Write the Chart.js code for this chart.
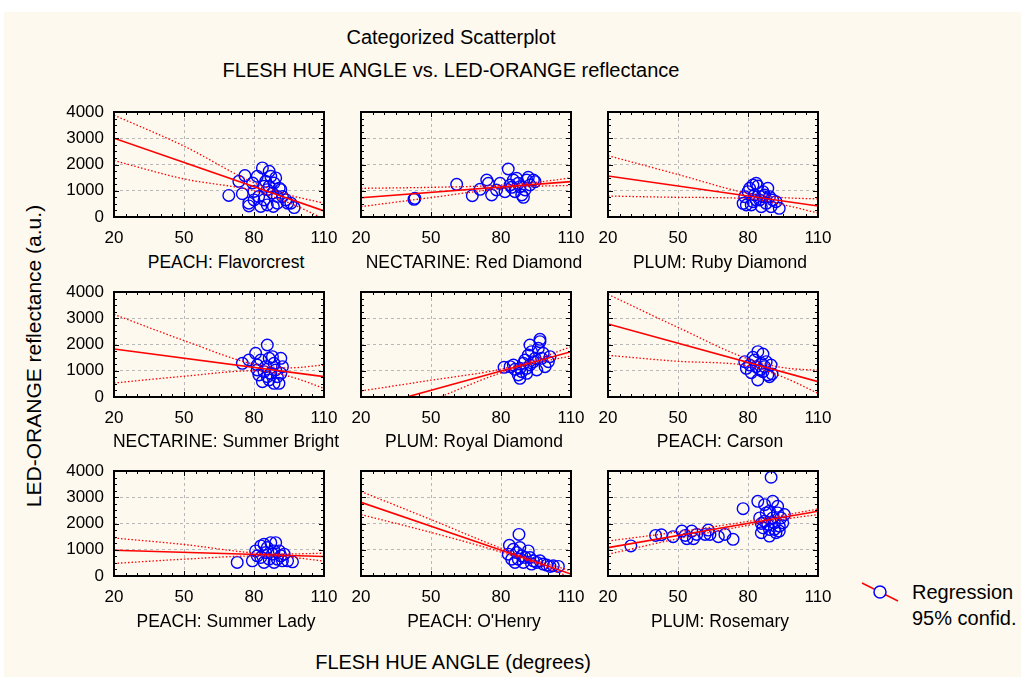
<!DOCTYPE html>
<html>
<head>
<meta charset="utf-8">
<script src="https://cdn.jsdelivr.net/npm/chart.js@4"></script>
<style>
  html, body { margin:0; padding:0; background:#ffffff; }
  body { width:1021px; height:679px; position:relative; overflow:hidden; font-family:"Liberation Sans", Arial, sans-serif; }
  #bg { position:absolute; left:4px; top:12px; width:1017px; height:665px; background:#fdf9ee; }
  canvas.panel { position:absolute; }
  .txt { position:absolute; color:#000; white-space:nowrap; line-height:1; }
</style>
</head>
<body>
<div id="bg"></div>
<div class="txt" style="left:451px;top:37px;font-size:20px;transform:translate(-50%,-50%);">Categorized Scatterplot</div>
<div class="txt" style="left:451px;top:70px;font-size:20px;transform:translate(-50%,-50%);">FLESH HUE ANGLE vs. LED-ORANGE reflectance</div>
<div class="txt" style="left:33px;top:356px;font-size:21px;transform:translate(-50%,-50%) rotate(-90deg);">LED-ORANGE reflectance (a.u.)</div>
<div class="txt" style="left:453px;top:662px;font-size:20px;transform:translate(-50%,-50%);">FLESH HUE ANGLE (degrees)</div>
<canvas id="leg" width="50" height="30" style="position:absolute;left:855px;top:577px;"></canvas>
<div class="txt" style="left:912px;top:592px;font-size:20px;transform:translateY(-50%);">Regression</div>
<div class="txt" style="left:912px;top:618px;font-size:20px;transform:translateY(-50%);">95% confid.</div>
<script>
// ---------- DATA ----------
const panelTitles = ["PEACH: Flavorcrest", "NECTARINE: Red Diamond", "PLUM: Ruby Diamond",
  "NECTARINE: Summer Bright", "PLUM: Royal Diamond", "PEACH: Carson",
  "PEACH: Summer Lady", "PEACH: O'Henry", "PLUM: Rosemary"];
const xTicks = [20, 50, 80, 110];
const yTicks = [0, 1000, 2000, 3000, 4000];
const regX = [20, 110];
const ciX = [20, 50, 80, 95, 110];

// Panel 1: PEACH Flavorcrest
const p1Hue = [69.2,75,76.1,73.5,77.8,77.8,79.4,80,81.4,83.6,86.5,85,87.2,88.6,82,84.3,85.7,87.9,90,91.5,92.2,93.6,94.4,88.3,85.7,82.9,80,90,97.2,95.8,90.8,86.5,84.3,89.3];
const p1Led = [820,885,1577,1360,525,420,1295,975,1550,1870,1740,1360,1550,1295,780,650,1040,910,780,1040,780,650,525,400,460,400,650,525,360,525,1100,1170,1170,1490];
const p1Reg = [3000, 230];
const p1Up = [3880, 2700, 1300, 840, 525];
const p1Lo = [2150, 1450, 1000, 540, -70];

// Panel 2: NECTARINE Red Diamond
const p2Hue = [42.7,43.1,61,67.7,71,73.9,74.6,76,78.1,79.6,81.7,83.1,83.9,85.3,86,86.7,88.1,88.9,89.6,90.3,91,91.7,92.4,93.9,94.6,87.4,84.6];
const p2Led = [673,711,1244,813,1054,1410,1283,838,1029,1283,965,1829,1219,1410,965,1473,1156,838,749,1029,1410,1511,1219,1410,1346,1283,1130];
const p2Reg = [736, 1346];
const p2Up = [1092, 1130, 1210, 1320, 1490];
const p2Lo = [394, 740, 1080, 1170, 1200];

// Panel 3: PLUM Ruby Diamond
const p3Hue = [77.9,78.6,80,80.7,82.1,83.5,84.2,82.8,82.1,79.3,81.4,85,86.4,86.4,88.5,87.8,89.9,90.6,92,93.4,85.7,83.5,87.1,89.2];
const p3Led = [520,775,965,1092,1219,1283,1181,838,584,457,457,648,775,965,1092,520,394,648,584,330,394,648,838,775];
const p3Reg = [1562, 419];
const p3Up = [2337, 1620, 900, 740, 690];
const p3Lo = [800, 750, 700, 470, 150];

// Panel 4: NECTARINE Summer Bright
const p4Hue = [75,77.8,80.7,85.7,82.9,81.4,82.1,83.6,85,86.5,87.9,88.6,89.3,90,91.5,92.2,90.7,88.6,87.2,86.5,84.3,91.5,81.4,85.7];
const p4Led = [1283,1410,1663,1981,1410,1219,838,584,1156,1473,1537,1283,1029,775,1473,1156,520,520,902,648,965,902,1029,775];
const p4Reg = [1829, 775];
const p4Up = [3150, 2150, 1250, 1110, 1219];
const p4Lo = [533, 790, 1000, 790, 330];

// Panel 5: PLUM Royal Diamond
const p5Hue = [81.3,83.9,85.3,86,87.4,88.1,88.9,89.6,90.3,91,91.7,92.4,93.1,93.9,94.6,95.3,96,96.7,96.7,97.4,98.1,98.9,100.3,101,91,88.1,92.4];
const p5Led = [1130,1156,1219,1054,838,711,965,1283,1410,1092,1600,1981,1727,1346,1473,1029,1854,2108,2197,1473,1663,1156,1346,1537,902,1092,1219];
const p5Reg = [-480, 1727];
const p5Up = [229, 640, 1060, 1430, 1917];
const p5Lo = [-1300, -150, 920, 1290, 1562];

// Panel 6: PEACH Carson
const p6Hue = [78.6,79.3,80.7,82.1,84.2,86.4,87.8,89.9,85.7,83.5,81.4,84.2,86.4,88.5,89.2,90.3,85,82.8,87.1];
const p6Led = [1346,1092,1219,1511,1727,1638,1346,1219,1283,1156,927,648,965,838,775,876,1029,1410,1156];
const p6Reg = [2781, 584];
const p6Up = [3911, 2650, 1450, 1120, 1016];
const p6Lo = [1587, 1360, 1190, 760, 140];

// Panel 7: PEACH Summer Lady
const p7Hue = [72.8,79.3,80.7,82.9,84.3,85.7,87.2,89.3,85,82.9,84.3,86.5,87.9,88.6,90,91.5,92.9,94.4,96.5,81.4,92.2,90.8,88.6];
const p7Led = [516,579,956,1145,1208,1082,1270,1270,893,704,516,642,830,516,642,767,830,579,541,767,579,956,956];
const p7Reg = [981, 742];
const p7Up = [1447, 1200, 880, 842, 868];
const p7Lo = [478, 640, 760, 720, 566];

// Panel 8: PEACH O'Henry
const p8Hue = [83.6,83.1,84.6,86,87.7,88.1,88.9,89.6,91.7,92.4,93.1,93.9,95.3,96.7,98.1,99.6,101,102.4,104.6,86.7,90.4,85.3,87.4];
const p8Led = [1170,830,642,516,1585,1082,767,516,956,704,453,579,516,579,453,415,365,390,365,893,704,1019,642];
const p8Reg = [2805, 75];
const p8Up = [3220, 2150, 1060, 590, 200];
const p8Lo = [2340, 1660, 910, 470, -60];

// Panel 9: PLUM Rosemary
const p9Hue = [29.8,40.4,42.9,47.9,51.7,53.1,53.8,55.9,56.6,58,61.6,63,63.7,67.3,70.1,73.6,77.9,84.2,85.7,85.7,87.1,87.8,89.2,89.9,89.2,90.6,90.6,91.3,92,92.7,93.4,94.1,94.9,95.6,88.5,86.4,85,89.2,87.1,91.3,93.4,92.7];
const p9Led = [1145,1547,1572,1497,1711,1547,1421,1711,1421,1585,1585,1748,1585,1497,1585,1396,2566,2843,2000,1648,2717,2403,2465,3761,1774,2843,2214,2025,1648,2403,1899,2214,2025,2340,1962,1837,2214,1522,2088,1774,1711,2654];
const p9Reg = [1082, 2465];
const p9Up = [1333, 1680, 2080, 2310, 2553];
const p9Lo = [830, 1420, 1930, 2160, 2340];

// ---------- LAYOUT ----------
const colLeft = [114, 361, 608];
const rowTop = [112, 292, 471];
const labelCenterX = [226, 474, 720];
const labelCenterY = [263, 442, 622];
const plotW = 210, plotH = 105;
const padL = 50, padR = 24, padT = 12, padB = 35;

const panels = [
  [p1Hue, p1Led, p1Reg, p1Up, p1Lo],
  [p2Hue, p2Led, p2Reg, p2Up, p2Lo],
  [p3Hue, p3Led, p3Reg, p3Up, p3Lo],
  [p4Hue, p4Led, p4Reg, p4Up, p4Lo],
  [p5Hue, p5Led, p5Reg, p5Up, p5Lo],
  [p6Hue, p6Led, p6Reg, p6Up, p6Lo],
  [p7Hue, p7Led, p7Reg, p7Up, p7Lo],
  [p8Hue, p8Led, p8Reg, p8Up, p8Lo],
  [p9Hue, p9Led, p9Reg, p9Up, p9Lo]
];

const FONT = "'Liberation Sans', Arial, sans-serif";

const noPad = s => { s.paddingTop = 0; s.paddingBottom = 0; s.paddingLeft = 0; s.paddingRight = 0; };

const framePlugin = {
  id: 'frame',
  afterDatasetsDraw(chart) {
    const {ctx, chartArea: a, scales: {x, y}} = chart;
    ctx.save();
    ctx.strokeStyle = '#000';
    ctx.lineWidth = 1;
    for (let v = 20; v <= 110; v += 5) {
      const px = Math.round(x.getPixelForValue(v)) + 0.5;
      const len = (xTicks.includes(v)) ? 5 : 3;
      ctx.beginPath();
      ctx.moveTo(px, a.bottom); ctx.lineTo(px, a.bottom - len);
      ctx.moveTo(px, a.top); ctx.lineTo(px, a.top + len);
      ctx.stroke();
    }
    for (let v = 0; v <= 4000; v += 250) {
      const py = Math.round(y.getPixelForValue(v)) + 0.5;
      const len = (yTicks.includes(v)) ? 5 : 3;
      ctx.beginPath();
      ctx.moveTo(a.left, py); ctx.lineTo(a.left + len, py);
      ctx.moveTo(a.right, py); ctx.lineTo(a.right - len, py);
      ctx.stroke();
    }
    ctx.lineWidth = 2;
    ctx.strokeRect(a.left, a.top, a.right - a.left, a.bottom - a.top);
    ctx.restore();
  }
};

panels.forEach((p, i) => {
  const r = Math.floor(i / 3), c = i % 3;
  const cv = document.createElement('canvas');
  cv.className = 'panel';
  cv.width = plotW + padL + padR;
  cv.height = plotH + padT + padB;
  cv.style.left = (colLeft[c] - padL) + 'px';
  cv.style.top = (rowTop[r] - padT) + 'px';
  document.body.appendChild(cv);

  const lbl = document.createElement('div');
  lbl.className = 'txt';
  lbl.textContent = panelTitles[i];
  lbl.style.fontSize = '17.5px';
  lbl.style.left = labelCenterX[c] + 'px';
  lbl.style.top = labelCenterY[r] + 'px';
  lbl.style.transform = 'translate(-50%,-50%)';
  document.body.appendChild(lbl);

  const [hue, led, reg, up, lo] = p;
  const pts = hue.map((h, k) => ({x: h, y: led[k]}));
  const toXY = (xs, ys) => xs.map((xv, k) => ({x: xv, y: ys[k]}));

  new Chart(cv, {
    type: 'scatter',
    data: {
      datasets: [
        {type: 'line', data: toXY(regX, reg), borderColor: '#ff0000', borderWidth: 1.6, pointRadius: 0, fill: false},
        {type: 'line', data: toXY(ciX, up), borderColor: '#ff0000', borderWidth: 1.3, borderDash: [1.5, 2], pointRadius: 0, fill: false, cubicInterpolationMode: 'monotone'},
        {type: 'line', data: toXY(ciX, lo), borderColor: '#ff0000', borderWidth: 1.3, borderDash: [1.5, 2], pointRadius: 0, fill: false, cubicInterpolationMode: 'monotone'},
        {data: pts, pointRadius: 5.8, pointBorderWidth: 1.4, borderColor: '#0000ff', pointBorderColor: '#0000ff', backgroundColor: 'rgba(0,0,0,0)', pointBackgroundColor: 'rgba(0,0,0,0)'}
      ]
    },
    options: {
      responsive: false,
      animation: false,
      devicePixelRatio: 1,
      layout: {autoPadding: false, padding: {left: 0, right: padR, top: padT, bottom: 0}},
      plugins: {legend: {display: false}, tooltip: {enabled: false}},
      scales: {
        x: {
          type: 'linear', min: 20, max: 110,
          afterBuildTicks: s => { s.ticks = xTicks.map(v => ({value: v})); },
          ticks: {color: '#000', font: {family: FONT, size: 17}, padding: 11, maxRotation: 0, autoSkip: false, callback: v => String(v)},
          grid: {color: '#b8b8b8', lineWidth: 1, drawTicks: false},
          border: {display: false, dash: [3, 3]},
          afterFit: s => { s.height = padB; noPad(s); }
        },
        y: {
          type: 'linear', min: 0, max: 4000,
          afterBuildTicks: s => { s.ticks = yTicks.map(v => ({value: v})); },
          ticks: {display: c === 0, color: '#000', font: {family: FONT, size: 17}, padding: 10, callback: v => String(v)},
          grid: {color: '#b8b8b8', lineWidth: 1, drawTicks: false},
          border: {display: false, dash: [3, 3]},
          afterFit: s => { s.width = padL; noPad(s); }
        }
      }
    },
    plugins: [framePlugin]
  });
});

// legend glyph
(function () {
  const ctx = document.getElementById('leg').getContext('2d');
  ctx.strokeStyle = '#ff0000';
  ctx.lineWidth = 1.5;
  ctx.beginPath(); ctx.moveTo(7, 6); ctx.lineTo(43, 24); ctx.stroke();
  ctx.beginPath(); ctx.arc(25, 15, 6, 0, Math.PI * 2);
  ctx.fillStyle = '#fdf9ee'; ctx.fill();
  ctx.strokeStyle = '#0000ff'; ctx.lineWidth = 1.5; ctx.stroke();
})();
</script>
</body>
</html>
